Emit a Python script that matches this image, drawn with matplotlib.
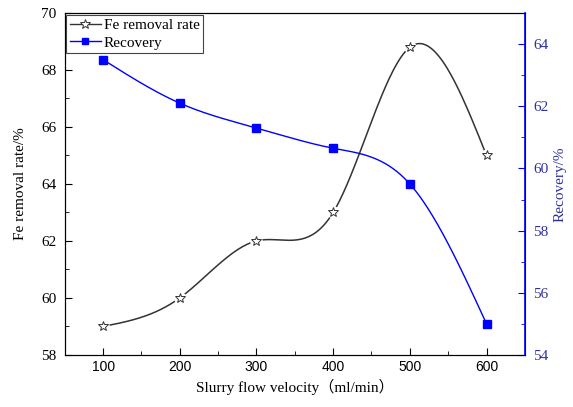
import numpy as np
import matplotlib.pyplot as plt
from matplotlib.ticker import MultipleLocator
from matplotlib.lines import Line2D

velocity = [100, 200, 300, 400, 500, 600]
fe_removal = [59.0, 60.0, 62.0, 63.0, 68.8, 65.0]
recovery = [63.5, 62.1, 61.3, 60.65, 59.5, 55.0]


def spline(x, y, n=300):
    # natural cubic spline, used only to draw a smooth line through the points
    x = np.asarray(x, float)
    y = np.asarray(y, float)
    k = len(x)
    h = np.diff(x)
    A = np.zeros((k, k))
    b = np.zeros(k)
    A[0, 0] = A[-1, -1] = 1
    for i in range(1, k - 1):
        A[i, i - 1] = h[i - 1]
        A[i, i] = 2 * (h[i - 1] + h[i])
        A[i, i + 1] = h[i]
        b[i] = 6 * ((y[i + 1] - y[i]) / h[i] - (y[i] - y[i - 1]) / h[i - 1])
    m = np.linalg.solve(A, b)
    xs = np.linspace(x[0], x[-1], n)
    idx = np.clip(np.searchsorted(x, xs) - 1, 0, k - 2)
    t = xs - x[idx]
    hi = h[idx]
    a = y[idx]
    bb = (y[idx + 1] - y[idx]) / hi - hi * (2 * m[idx] + m[idx + 1]) / 6
    c = m[idx] / 2
    d = (m[idx + 1] - m[idx]) / (6 * hi)
    return xs, a + bb * t + c * t ** 2 + d * t ** 3


plt.rcParams['font.family'] = 'Liberation Serif'
blue = '#0000ff'
label_blue = '#3030a0'

fig = plt.figure(figsize=(5.73, 4.07), dpi=100)
ax = fig.add_axes([0.113, 0.128, 0.803, 0.84])
ax2 = ax.twinx()

xs, ys = spline(velocity, fe_removal)
ax.plot(xs, ys, color='#333333', lw=1.1, zorder=2)
ax.plot(velocity, fe_removal, ls='none', marker='o', ms=9, mfc='white', mec='none', zorder=3)
ax.plot(velocity, fe_removal, ls='none', marker='*', ms=7.5, mfc='white', mec='#333333', mew=0.7, zorder=4)

xs2, ys2 = spline(velocity, recovery)
ax2.plot(xs2, ys2, color=blue, lw=1.0)
ax2.plot(velocity, recovery, ls='none', marker='s', ms=5.5, color=blue)

ax.set_xlim(50, 650)
ax.set_ylim(58, 70)
ax2.set_ylim(54, 65)

ax.xaxis.set_major_locator(MultipleLocator(100))
ax.xaxis.set_minor_locator(MultipleLocator(50))
ax.yaxis.set_major_locator(MultipleLocator(2))
ax.yaxis.set_minor_locator(MultipleLocator(1))
ax2.yaxis.set_major_locator(MultipleLocator(2))
ax2.yaxis.set_minor_locator(MultipleLocator(1))

ax.tick_params(which='both', direction='in', top=False, right=False)
ax.tick_params(which='major', length=5)
ax.tick_params(which='minor', length=3)
ax.tick_params(axis='y', labelsize=11, pad=6)
ax.tick_params(axis='x', labelsize=10)
for lab in ax.get_xticklabels():
    lab.set_family('Liberation Sans')

ax2.tick_params(which='both', direction='in', colors=blue, labelcolor=label_blue, labelsize=11, pad=6)
ax2.tick_params(which='major', length=5)
ax2.tick_params(which='minor', length=3)
ax2.spines['right'].set_color(blue)
ax2.spines['right'].set_linewidth(1.2)

ax.set_xlabel('Slurry flow velocity\uff08ml/min\uff09', fontsize=11,
              family=['Liberation Serif', 'Noto Sans CJK SC'])
ax.set_ylabel('Fe removal rate/%', fontsize=11, labelpad=10)
ax2.set_ylabel('Recovery/%', fontsize=11, color=label_blue, labelpad=4)

handles = [
    Line2D([], [], color='#333333', lw=1, marker='*', ms=7, mfc='white', mec='#333333', mew=0.7),
    Line2D([], [], color=blue, lw=1, marker='s', ms=5),
]
leg = ax.legend(handles, ['Fe removal rate', 'Recovery'], loc='upper left',
                fontsize=11, fancybox=False, framealpha=1, edgecolor='#444444',
                borderaxespad=0.1, handlelength=2.0, handletextpad=0.2,
                borderpad=0.25, labelspacing=0.25)
leg.get_frame().set_linewidth(0.8)

fig.savefig('out.png', dpi=100)
